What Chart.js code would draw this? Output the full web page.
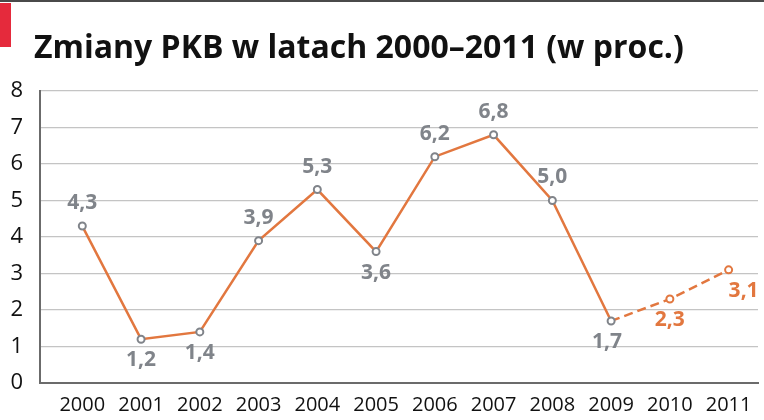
<!DOCTYPE html>
<html>
<head>
<meta charset="utf-8">
<script src="https://cdn.jsdelivr.net/npm/chart.js@4.4.1/dist/chart.umd.min.js"></script>
<style>
  html, body { margin: 0; padding: 0; background: #fff; }
  #wrap { width: 764px; height: 420px; position: relative; }
</style>
</head>
<body>
<div id="wrap"><canvas id="c" width="764" height="420"></canvas></div>
<script>
const titleText = 'Zmiany PKB w latach 2000–2011 (w proc.)';
const years = ['2000','2001','2002','2003','2004','2005','2006','2007','2008','2009','2010','2011'];
const gdp = [4.3, 1.2, 1.4, 3.9, 5.3, 3.6, 6.2, 6.8, 5.0, 1.7, 2.3, 3.1];
const forecastFrom = 9; // index after which values are forecasts (2010, 2011)
const labelSide = ['above','below','below','above','above','below','above','above','above','below','below','below'];
const yTicks = [0,1,2,3,4,5,6,7,8];

const ORANGE = '#e2773f';
const GRAY = '#80848a';

const points = gdp.map((v, i) => ({ x: i, y: v }));

const decor = {
  id: 'decor',
  beforeDraw(chart) {
    const ctx = chart.ctx;
    ctx.save();
    ctx.fillStyle = '#fff';
    ctx.fillRect(0, 0, chart.width, chart.height);
    ctx.fillStyle = '#4a4a4a';
    ctx.fillRect(0, 0, chart.width, 2);
    ctx.fillStyle = '#e52a3c';
    ctx.fillRect(0, 3, 11, 44);
    ctx.fillStyle = '#111';
    ctx.font = 'bold 32px "Open Sans"';
    ctx.textBaseline = 'alphabetic';
    ctx.textAlign = 'left';
    ctx.fillText(titleText, 34, 58);
    ctx.restore();
  },
  afterDatasetsDraw(chart) {
    const ctx = chart.ctx;
    const meta = chart.getDatasetMeta(0);
    ctx.save();
    ctx.font = 'bold 21px "Open Sans"';
    ctx.textAlign = 'center';
    ctx.textBaseline = 'middle';
    meta.data.forEach((pt, i) => {
      const txt = gdp[i].toFixed(1).replace('.', ',');
      const dy = labelSide[i] === 'above' ? -23 : 21;
      const dx = i === gdp.length - 1 ? 15 : (i === forecastFrom ? -4 : 0);
      ctx.fillStyle = i > forecastFrom ? ORANGE : GRAY;
      ctx.fillText(txt, pt.x + dx, pt.y + dy);
    });
    ctx.restore();
  }
};

new Chart(document.getElementById('c'), {
  type: 'line',
  data: {
    datasets: [{
      data: points,
      borderColor: ORANGE,
      borderWidth: 2.5,
      pointRadius: 3.5,
      pointBorderWidth: 2,
      pointBackgroundColor: '#fff',
      pointBorderColor: gdp.map((v, i) => i > forecastFrom ? ORANGE : GRAY),
      tension: 0,
      segment: {
        borderDash: ctx => ctx.p0DataIndex >= forecastFrom ? [9, 5] : undefined
      }
    }]
  },
  options: {
    responsive: false,
    animation: false,
    devicePixelRatio: 1,
    layout: { padding: { top: 91, right: 6, left: 0, bottom: 0 } },
    plugins: { legend: { display: false }, tooltip: { enabled: false }, title: { display: false } },
    scales: {
      x: {
        type: 'linear',
        min: -0.72,
        max: 11.5,
        afterFit(s) { s.height = 37; },
        afterBuildTicks(s) { s.ticks = years.map((y, i) => ({ value: i })); },
        ticks: {
          autoSkip: false,
          maxRotation: 0,
          padding: 10,
          color: '#111',
          font: { family: '"Open Sans"', size: 20 },
          callback: (v) => years[v]
        },
        grid: { display: false, drawTicks: false },
        border: { color: '#6b6b6b', width: 2 }
      },
      y: {
        min: 0,
        max: 8,
        afterFit(s) { s.width = 40; },
        afterBuildTicks(s) { s.ticks = yTicks.map(v => ({ value: v })); },
        ticks: {
          padding: 17,
          color: '#111',
          font: { family: '"Open Sans"', size: 22 }
        },
        grid: { color: '#c4c4c4', lineWidth: 1.3, drawTicks: false },
        border: { color: '#6b6b6b', width: 2 }
      }
    }
  },
  plugins: [decor]
});
</script>
</body>
</html>
